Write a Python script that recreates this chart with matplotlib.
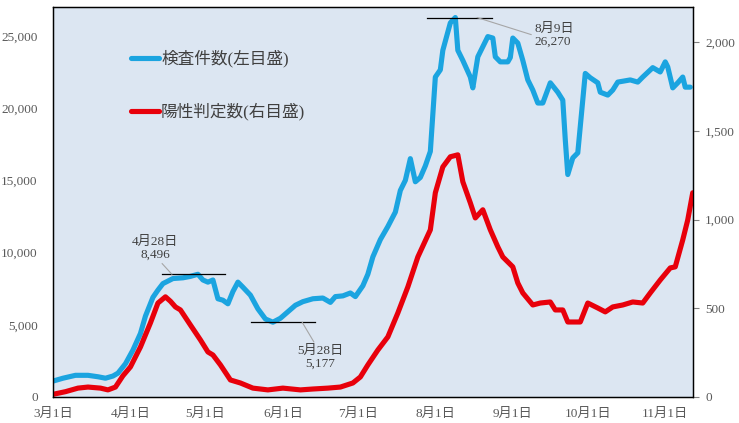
import numpy as np
import matplotlib
matplotlib.use("Agg")
import matplotlib.pyplot as plt
from matplotlib.lines import Line2D
from matplotlib.ticker import FuncFormatter

plt.rcParams['font.family'] = ['Liberation Serif', 'Noto Sans CJK JP']

# days counted from 2020-03-01
start = np.datetime64('2020-03-01')

# tests (7-day average), left axis
test_day = [0, 4, 9, 14, 18, 21, 24, 26, 29, 32, 35, 37, 40, 42, 44, 48, 52, 55, 58,
            60, 62, 64, 66, 68, 70, 72, 74, 76, 79, 82, 85, 88, 91, 94, 97, 100,
            104, 108, 110, 111, 113, 116, 119, 121, 124, 126, 128, 131, 134, 137,
            139, 141, 143, 145, 147, 149, 151, 153, 155, 156, 159, 161, 162, 164,
            167, 168, 170, 172, 174, 176, 177, 179, 182, 183, 184, 186, 188, 190,
            192, 194, 196, 199, 202, 204, 205, 206, 208, 210, 213, 215, 218, 219,
            222, 224, 226, 231, 234, 236, 240, 243, 245, 246, 248, 250, 252, 253, 255]
test_val = [1100, 1300, 1500, 1500, 1400, 1300, 1450, 1650, 2300, 3250, 4400, 5600,
            6900, 7400, 7850, 8200, 8250, 8350, 8496, 8100, 7950, 8100, 6800, 6700,
            6450, 7300, 7950, 7600, 7050, 6100, 5400, 5177, 5450, 5900, 6350, 6600,
            6800, 6850, 6650, 6550, 6950, 7000, 7200, 6950, 7700, 8500, 9700, 10900,
            11800, 12800, 14300, 15000, 16500, 14900, 15200, 16000, 17000, 22150,
            22650, 24000, 25900, 26270, 24000, 23300, 22150, 21400, 23550, 24250,
            24950, 24850, 23550, 23200, 23200, 23500, 24850, 24500, 23300, 21950,
            21250, 20350, 20350, 21750, 21100, 20550, 17800, 15400, 16550, 16900,
            22400, 22100, 21750, 21100, 20900, 21250, 21800, 21950, 21800, 22150,
            22800, 22500, 23200, 22850, 21400, 21750, 22150, 21450, 21450]

# positives (7-day average), right axis
pos_day = [0, 5, 10, 14, 19, 22, 25, 28, 31, 35, 39, 42, 45, 47, 49, 51, 55, 59, 62,
           64, 67, 71, 75, 80, 86, 92, 99, 104, 110, 115, 120, 123, 126, 130, 134,
           138, 142, 146, 151, 153, 156, 159, 162, 164, 167, 169, 172, 175, 178,
           180, 184, 186, 188, 192, 195, 199, 201, 204, 206, 211, 214, 218, 221,
           224, 228, 232, 236, 239, 243, 247, 249, 252, 254, 256]
pos_val = [15, 30, 50, 56, 50, 40, 56, 120, 170, 282, 418, 530, 565, 540, 508, 491,
           406, 322, 254, 237, 181, 96, 79, 50, 40, 50, 40, 45, 50, 56, 79, 113, 181,
           265, 339, 474, 621, 790, 943, 1152, 1298, 1355, 1366, 1214, 1095, 1010,
           1056, 943, 847, 790, 734, 643, 587, 519, 530, 536, 491, 491, 423, 423,
           530, 502, 480, 508, 519, 536, 530, 587, 660, 728, 734, 886, 999, 1152]

months = [3, 4, 5, 6, 7, 8, 9, 10, 11]
left_ticks = [0, 5000, 10000, 15000, 20000, 25000]
right_ticks = [0, 500, 1000, 1500, 2000]

# labelled points: date text, day, value
notes = [('4月28日', 58, 8496), ('5月28日', 88, 5177), ('8月9日', 161, 26270)]

blue = '#1BA4E0'
red = '#E8000B'
grey = '#595959'


def day_to_date(d):
    return start + np.timedelta64(int(round(d * 24)), 'h')


test_dates = start + np.array(test_day)
pos_dates = start + np.array(pos_day)

fig = plt.figure(figsize=(7.39, 4.23), dpi=100)
ax = fig.add_axes([0.0717, 0.0615, 0.8657, 0.922])
ax.set_facecolor('#DCE6F2')
ax2 = ax.twinx()

ax.plot(test_dates, test_val, color=blue, lw=3.7, solid_capstyle='round',
        solid_joinstyle='round')
ax2.plot(pos_dates, pos_val, color=red, lw=3.7, solid_capstyle='round',
         solid_joinstyle='round')

ax.set_ylim(0, 27000)
ax2.set_ylim(0, 2200)
ax.set_xlim(start, np.datetime64('2020-11-12'))

ax.set_yticks(left_ticks)
ax2.set_yticks(right_ticks)
fmt = FuncFormatter(lambda v, p: f'{int(v):,}')
ax.yaxis.set_major_formatter(fmt)
ax2.yaxis.set_major_formatter(fmt)

ax.set_xticks([np.datetime64(f'2020-{m:02d}-01') for m in months])
ax.set_xticklabels([f'{m}月1日' for m in months])

ax.tick_params(axis='x', length=0, pad=7.5, labelsize=9.5, labelcolor=grey)
ax.tick_params(axis='y', length=0, pad=11, labelsize=9.5, labelcolor=grey)
ax2.tick_params(axis='y', direction='out', length=4, width=0.8, color='#808080',
                pad=5, labelsize=9.5, labelcolor=grey)

for a in (ax, ax2):
    for s in a.spines.values():
        s.set_color('black')
        s.set_linewidth(0.9)

# annotations: horizontal marker line + label with leader line
hl = [(-14.4, 10.9), (-8.7, 16.9), (-11.3, 14.7)]
lead = [(-10.4, (-17, 26), 'center', (0.6, 0.0)),
        (11.7, (18, -35), 'center', (0.4, 1.0)),
        (8.7, (57, -18), 'left', (0.0, 0.5))]
for (lab, d, v), (h0, h1), (ld, off, ha, rp) in zip(notes, hl, lead):
    ax.plot([day_to_date(d + h0), day_to_date(d + h1)], [v, v],
            color='black', lw=0.9)
    ax.annotate(f'{lab}\n{v:,}', xy=(day_to_date(d + ld), v),
                xytext=off, textcoords='offset pixels', ha=ha, va='center',
                fontsize=9.5, color='#404040', linespacing=1.1,
                arrowprops=dict(arrowstyle='-', color='#A6A6A6', lw=0.8,
                                shrinkA=0, shrinkB=0, relpos=rp))

handles = [Line2D([], [], color=blue, lw=3.7, solid_capstyle='round'),
           Line2D([], [], color=red, lw=3.7, solid_capstyle='round')]
leg = ax2.legend(handles, ['検査件数(左目盛)', '陽性判定数(右目盛)'],
                 loc='upper left', bbox_to_anchor=(0.122, 0.89), frameon=False,
                 fontsize=12, handlelength=1.7, handletextpad=0.1,
                 labelspacing=2.12, borderpad=0, borderaxespad=0)
for t in leg.get_texts():
    t.set_color('#404040')

fig.savefig('out.png', dpi=100)
